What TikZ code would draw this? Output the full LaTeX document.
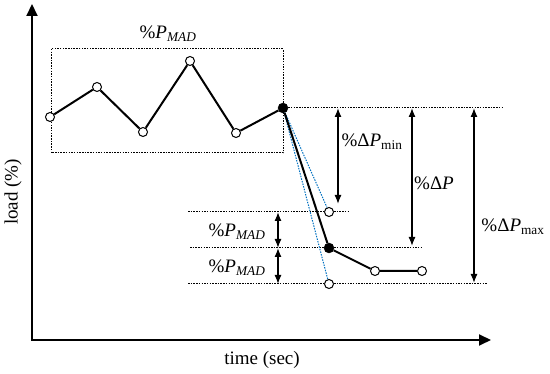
\documentclass[tikz,border=0pt]{standalone}
\usepackage{fontspec}
\setmainfont{Liberation Serif}
\usetikzlibrary{arrows.meta}
\definecolor{slopeblue}{RGB}{0,112,192}
\tikzset{
  axis/.style={line width=2pt,{Triangle[length=12pt,width=11pt]}-{Triangle[length=12pt,width=11pt]}},
  curve/.style={line width=2pt},
  guide/.style={line width=1pt,dash pattern=on 1.5pt off 1.2pt},
  slope/.style={slopeblue,line width=1pt,dash pattern=on 1.5pt off 1.2pt},
  dim/.style={line width=1.3pt,{Latex[length=9pt,width=7pt]}-{Latex[length=9pt,width=7pt]}},
  opendot/.style={circle,draw,fill=white,line width=1pt,inner sep=0pt,minimum size=9pt},
  filldot/.style={circle,draw,fill=black,inner sep=0pt,minimum size=10pt},
  lbl/.style={font=\fontsize{19}{21}\selectfont,inner sep=1pt},
}
\newcommand{\pmad}{\%\textit{P}\textsubscript{\textit{MAD}}}
\begin{document}
\begin{tikzpicture}[x=1pt,y=-1pt]
\useasboundingbox (0,0) rectangle (550,374);
% axes
\coordinate (ytop) at (32,4);
\coordinate (origin) at (32,340);
\coordinate (xend) at (491,340);
\draw[axis] (ytop) -- (origin) -- (xend);
\node[lbl] (tlabel) at (262,360) {time (sec)};
\node[lbl,rotate=90] (ylabel) at (13,192) {load (\%)};
% averaging window
\draw[guide] (51,49) rectangle (283,153);
\node[lbl] (madtop) at (168,34) {\pmad};
% load points
\node[opendot] (p1) at (50,117) {};
\node[opendot] (p2) at (97,87) {};
\node[opendot] (p3) at (143,132) {};
\node[opendot] (p4) at (190,61) {};
\node[opendot] (p5) at (236,133) {};
\node[filldot] (p6) at (283,108) {};
\node[filldot] (p7) at (329,248) {};
\node[opendot] (p8) at (375,271) {};
\node[opendot] (p9) at (422,271) {};
\node[opendot] (pmin) at (329,212) {};
\node[opendot] (pmax) at (329,284) {};
% level lines
\coordinate (g0) at (502,108);
\coordinate (g1a) at (188,212);
\coordinate (g1b) at (350,212);
\coordinate (g2a) at (190,248);
\coordinate (g2b) at (423,248);
\coordinate (g3a) at (188,284);
\coordinate (g3b) at (487,284);
\draw[guide] (p6) -- (g0);
\draw[guide] (g1a) -- (pmin) -- (g1b);
\draw[guide] (g2a) -- (p7) -- (g2b);
\draw[guide] (g3a) -- (pmax) -- (g3b);
\draw[slope] (p6) -- (pmin);
\draw[slope] (p6) -- (pmax);
\draw[curve] (p1) -- (p2) -- (p3) -- (p4) -- (p5) -- (p6);
\draw[curve] (p6) -- (p7) -- (p8) -- (p9);
% dimensions
\coordinate (dmin1) at (338,108);
\coordinate (dmin2) at (338,204);
\coordinate (dp1) at (412,108);
\coordinate (dp2) at (412,246);
\coordinate (dmax1) at (474,108);
\coordinate (dmax2) at (474,283);
\coordinate (m1) at (278,212);
\coordinate (m2) at (278,248);
\coordinate (m3) at (278,284);
\draw[dim] (dmin1) -- (dmin2);
\draw[dim] (dp1) -- (dp2);
\draw[dim] (dmax1) -- (dmax2);
\draw[dim] (m1) -- (m2);
\draw[dim] (m2) -- (m3);
\node[lbl] (lmin) at (372,142) {\%Δ\textit{P}\textsubscript{min}};
\node[lbl] (ldp) at (434,183) {\%Δ\textit{P}};
\node[lbl] (lmax) at (513,227) {\%Δ\textit{P}\textsubscript{max}};
\node[lbl] (mad1) at (237,232) {\pmad};
\node[lbl] (mad2) at (237,268) {\pmad};
\end{tikzpicture}
\end{document}
